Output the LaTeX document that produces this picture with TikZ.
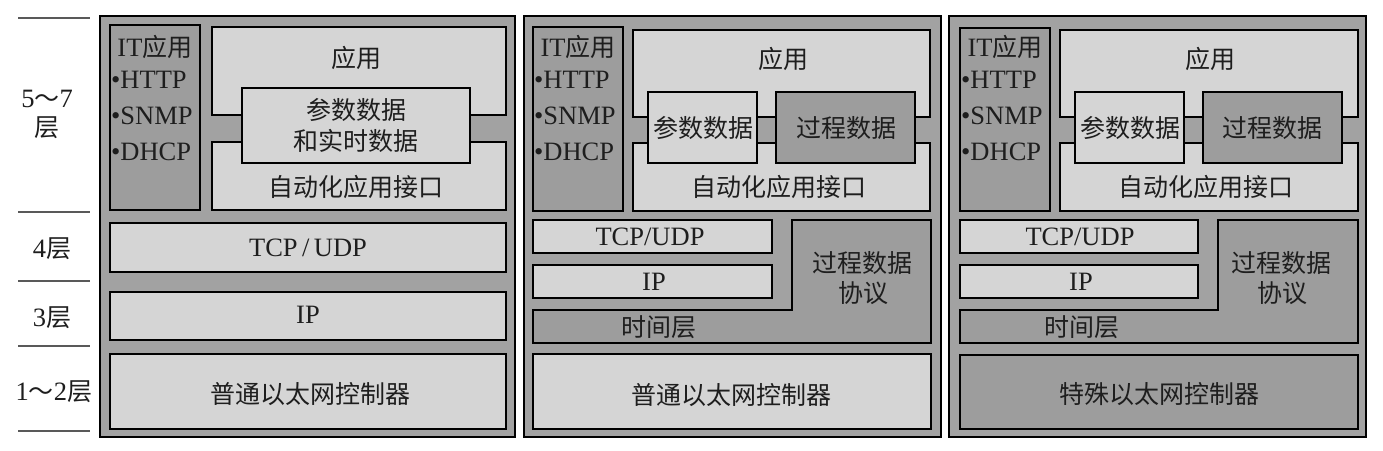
\documentclass[tikz,border=0pt]{standalone}
\usepackage{fontspec}
\setmainfont{Liberation Serif}
\newfontfamily\cjk{Noto Sans CJK SC}
\newcommand{\zh}[1]{{\fontsize{25}{28}\cjk #1}}
\definecolor{pnlgray}{HTML}{A2A2A2}
\definecolor{litegray}{HTML}{D5D5D5}
\definecolor{dkgray}{HTML}{9D9D9D}
\definecolor{txtgray}{HTML}{1E1E1E}
\begin{document}
\begin{tikzpicture}[x=1pt,y=-1pt,
  panel/.style={fill=pnlgray, draw=black, line width=2.6pt},
  lightbox/.style={fill=litegray, draw=black, line width=2.4pt, line join=miter},
  darkbox/.style={fill=dkgray, draw=black, line width=2.4pt, line join=miter},
  lbl/.style={font=\fontsize{26.5}{28}\selectfont, text=txtgray, inner sep=0pt},
  sepline/.style={draw=black!65, line width=1.6pt}]
\useasboundingbox (0,0) rectangle (1383,450);

% ---- left layer labels ----
\draw[sepline] (18,18) -- (90,18);
\draw[sepline] (18,212) -- (90,212);
\draw[sepline] (18,281) -- (90,281);
\draw[sepline] (18,346) -- (90,346);
\draw[sepline] (18,431) -- (90,431);
\node[lbl] (l57a) at (47,99) {5\zh{～}7};
\node[lbl] (l57b) at (47,128) {\zh{层}};
\node[lbl] (l4) at (52,249) {4\zh{层}};
\node[lbl] (l3) at (52,318) {3\zh{层}};
\node[lbl] (l12) at (54,392) {1\zh{～}2\zh{层}};

% ---- panel 1 ----
\path[panel] (100,16) rectangle (515,437);
\path[darkbox] (110,25) rectangle (200,210);
\node[lbl] (p1it) at (155,47) {IT\zh{应用}};
\node[lbl, anchor=west] (p1http) at (111,80) {•HTTP};
\node[lbl, anchor=west] (p1snmp) at (111,116) {•SNMP};
\node[lbl, anchor=west] (p1dhcp) at (111,152) {•DHCP};
\path[lightbox] (212,27) rectangle (506,115);
\path[lightbox] (212,142) rectangle (506,210);
\path[lightbox] (242,88) rectangle (470,163);
\node[lbl] (p1app) at (356,58) {\zh{应用}};
\node[lbl] (p1par) at (356,110) {\zh{参数数据}};
\node[lbl] (p1rt) at (356,141) {\zh{和实时数据}};
\node[lbl] (p1api) at (356,187) {\zh{自动化应用接口}};
\path[lightbox] (110,223) rectangle (506,272);
\node[lbl] (p1tcp) at (308,248) {TCP\,/\,UDP};
\path[lightbox] (110,292) rectangle (506,340);
\node[lbl] (p1ip) at (308,315) {IP};
\path[lightbox] (110,354) rectangle (506,429);
\node[lbl] (p1eth) at (310,394) {\zh{普通以太网控制器}};

% ---- panel 2 ----
\path[panel] (524,16) rectangle (941,437);
\path[darkbox] (533,27) rectangle (623,211);
\node[lbl] (p2it) at (578,47) {IT\zh{应用}};
\node[lbl, anchor=west] (p2http) at (534,80) {•HTTP};
\node[lbl, anchor=west] (p2snmp) at (534,116) {•SNMP};
\node[lbl, anchor=west] (p2dhcp) at (534,152) {•DHCP};
\path[lightbox] (633,30) rectangle (930,117);
\path[lightbox] (633,143) rectangle (930,211);
\path[lightbox] (648,92) rectangle (757,163);
\path[darkbox] (776,92) rectangle (915,163);
\node[lbl] (p2app) at (783,59) {\zh{应用}};
\node[lbl] (p2par) at (703,128) {\zh{参数数据}};
\node[lbl] (p2proc) at (846,128) {\zh{过程数据}};
\node[lbl] (p2api) at (779,187) {\zh{自动化应用接口}};
\path[lightbox] (533,220) rectangle (772,253);
\node[lbl] (p2tcp) at (650,237) {TCP/UDP};
\path[lightbox] (533,265) rectangle (772,298);
\node[lbl] (p2ip) at (654,282) {IP};
\path[darkbox] (533,310) -- (792,310) -- (792,220) -- (931,220) -- (931,343) -- (533,343) -- cycle;
\node[lbl] (p2time) at (659,327) {\zh{时间层}};
\node[lbl] (p2pdp1) at (862,263) {\zh{过程数据}};
\node[lbl] (p2pdp2) at (863,293) {\zh{协议}};
\path[lightbox] (533,354) rectangle (931,429);
\node[lbl] (p2eth) at (731,395) {\zh{普通以太网控制器}};

% ---- panel 3 ----
\path[panel] (949,16) rectangle (1366,437);
\path[darkbox] (960,28) rectangle (1050,211);
\node[lbl] (p3it) at (1005,47) {IT\zh{应用}};
\node[lbl, anchor=west] (p3http) at (961,80) {•HTTP};
\node[lbl, anchor=west] (p3snmp) at (961,116) {•SNMP};
\node[lbl, anchor=west] (p3dhcp) at (961,152) {•DHCP};
\path[lightbox] (1060,30) rectangle (1358,117);
\path[lightbox] (1060,143) rectangle (1358,211);
\path[lightbox] (1075,92) rectangle (1184,163);
\path[darkbox] (1203,92) rectangle (1342,163);
\node[lbl] (p3app) at (1210,59) {\zh{应用}};
\node[lbl] (p3par) at (1130,128) {\zh{参数数据}};
\node[lbl] (p3proc) at (1272,128) {\zh{过程数据}};
\node[lbl] (p3api) at (1206,187) {\zh{自动化应用接口}};
\path[lightbox] (960,220) rectangle (1198,253);
\node[lbl] (p3tcp) at (1080,237) {TCP/UDP};
\path[lightbox] (960,265) rectangle (1198,298);
\node[lbl] (p3ip) at (1081,282) {IP};
\path[darkbox] (960,310) -- (1218,310) -- (1218,220) -- (1358,220) -- (1358,343) -- (960,343) -- cycle;
\node[lbl] (p3time) at (1082,327) {\zh{时间层}};
\node[lbl] (p3pdp1) at (1281,263) {\zh{过程数据}};
\node[lbl] (p3pdp2) at (1282,293) {\zh{协议}};
\path[darkbox] (960,355) rectangle (1358,429);
\node[lbl] (p3eth) at (1159,394) {\zh{特殊以太网控制器}};
\end{tikzpicture}
\end{document}
